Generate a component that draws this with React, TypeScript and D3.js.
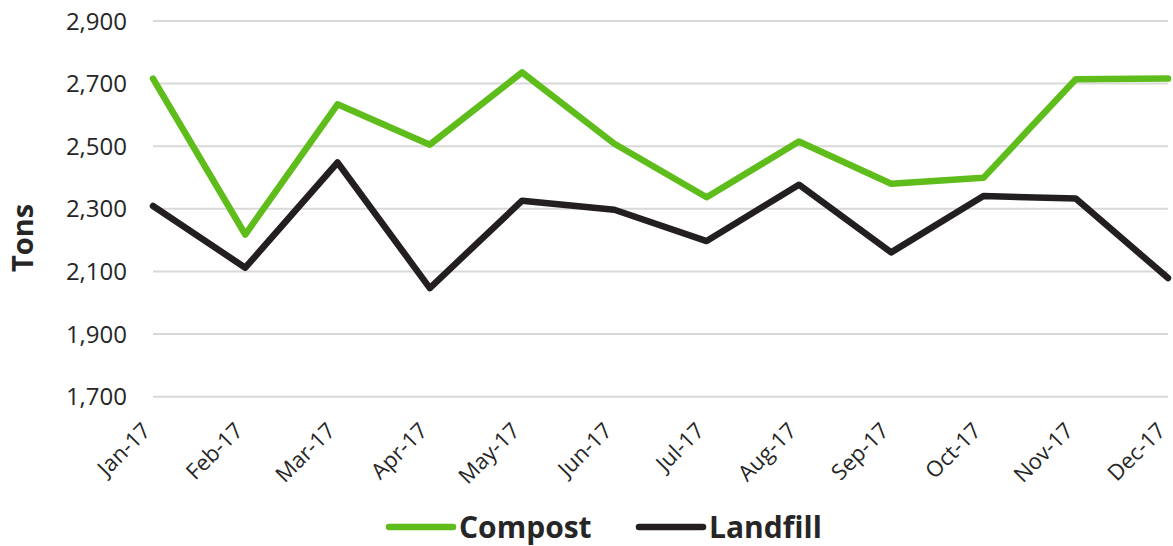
import * as d3 from 'd3'
import { useEffect, useRef } from 'react'

const months = ['Jan-17', 'Feb-17', 'Mar-17', 'Apr-17', 'May-17', 'Jun-17', 'Jul-17', 'Aug-17', 'Sep-17', 'Oct-17', 'Nov-17', 'Dec-17']
const compost = [2716, 2218, 2634, 2505, 2736, 2508, 2337, 2515, 2380, 2399, 2714, 2716]
const landfill = [2309, 2112, 2448, 2047, 2326, 2297, 2197, 2377, 2161, 2341, 2333, 2079]
const yTicks = [1700, 1900, 2100, 2300, 2500, 2700, 2900]

const series = [
  { name: 'Compost', values: compost, color: '#5fbd1b' },
  { name: 'Landfill', values: landfill, color: '#231f20' }
]

const FONT = '"Open Sans", sans-serif'

export default function App() {
  const svgRef = useRef<SVGSVGElement | null>(null)

  useEffect(() => {
    if (!svgRef.current) return
    const width = 1173
    const height = 546
    const margin = { top: 21, right: 5, bottom: 150, left: 153 }

    const svg = d3.select(svgRef.current)
    svg.selectAll('*').remove()
    svg.attr('width', width).attr('height', height)

    const x = d3
      .scalePoint<string>()
      .domain(months)
      .range([margin.left, width - margin.right])

    const y = d3
      .scaleLinear()
      .domain([1700, 2900])
      .range([height - margin.bottom + 0.7, margin.top])

    // grid
    svg
      .append('g')
      .selectAll('line')
      .data(yTicks)
      .join('line')
      .attr('x1', margin.left)
      .attr('x2', width - margin.right)
      .attr('y1', d => y(d))
      .attr('y2', d => y(d))
      .attr('stroke', '#d9d9d9')
      .attr('stroke-width', 2)

    // y labels
    svg
      .append('g')
      .selectAll('text')
      .data(yTicks)
      .join('text')
      .attr('x', 127)
      .attr('y', d => y(d))
      .attr('dy', '0.36em')
      .attr('text-anchor', 'end')
      .attr('font-family', FONT)
      .attr('font-size', 24)
      .attr('fill', '#262626')
      .text(d => d3.format(',')(d))

    // x labels
    svg
      .append('g')
      .selectAll('text')
      .data(months)
      .join('text')
      .attr('transform', d => `translate(${(x(d) ?? 0) - 1},${432}) rotate(-45)`)
      .attr('text-anchor', 'end')
      .attr('font-family', FONT)
      .attr('font-size', 22)
      .attr('fill', '#262626')
      .text(d => d)

    // y title
    svg
      .append('text')
      .attr('transform', 'translate(33,238) rotate(-90)')
      .attr('text-anchor', 'middle')
      .attr('font-family', FONT)
      .attr('font-size', 29)
      .attr('font-weight', 'bold')
      .attr('fill', '#262626')
      .text('Tons')

    const line = d3
      .line<number>()
      .x((_, i) => x(months[i]) ?? 0)
      .y(d => y(d))

    series.forEach(s => {
      svg
        .append('path')
        .datum(s.values)
        .attr('fill', 'none')
        .attr('stroke', s.color)
        .attr('stroke-width', 6.5)
        .attr('stroke-linejoin', 'round')
        .attr('stroke-linecap', 'round')
        .attr('d', line)
    })

    // legend
    const legendX = [389, 639]
    series.forEach((s, i) => {
      const g = svg.append('g').attr('transform', `translate(${legendX[i]},527)`)
      g.append('line')
        .attr('x1', 0)
        .attr('x2', 64)
        .attr('stroke', s.color)
        .attr('stroke-width', 6.5)
        .attr('stroke-linecap', 'round')
      g.append('text')
        .attr('x', 70)
        .attr('dy', '0.36em')
        .attr('font-family', FONT)
        .attr('font-size', 30)
        .attr('font-weight', 'bold')
        .attr('fill', '#262626')
        .text(s.name)
    })
  }, [])

  return (
    <div style={{ position: 'absolute', left: 0, top: 0 }}>
      <svg ref={svgRef} style={{ display: 'block' }} />
    </div>
  )
}
